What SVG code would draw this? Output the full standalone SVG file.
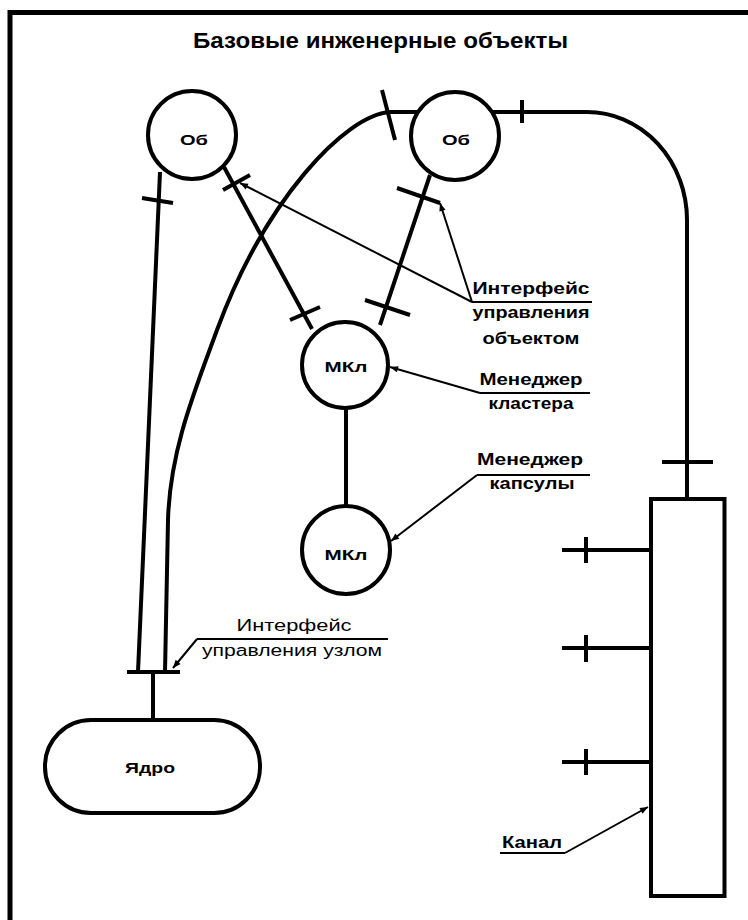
<svg xmlns="http://www.w3.org/2000/svg" width="748" height="920" viewBox="0 0 748 920">
<style>
.n{fill:#fff;stroke:#000;stroke-width:4}
.c{fill:none;stroke:#000;stroke-width:4}
.t{fill:none;stroke:#000;stroke-width:4}
.l{fill:none;stroke:#000;stroke-width:2}
.u{fill:none;stroke:#000;stroke-width:2}
text{font-family:"Liberation Sans",Arial,sans-serif;font-weight:bold;fill:#000;text-anchor:middle}
.lb{font-size:16px}
.nd{font-size:14px}
</style>
<defs>
<marker id="arr" viewBox="0 0 10 10" refX="10" refY="5" markerWidth="10" markerHeight="8" markerUnits="userSpaceOnUse" orient="auto">
<path d="M0,1 L10,5 L0,9 z" fill="#000"/>
</marker>
</defs>
<rect width="748" height="920" fill="#fff"/>
<path d="M10 925 L10 12.5 L760 12.5" fill="none" stroke="#000" stroke-width="5"/>
<text x="380.5" y="48" font-size="22" textLength="375" lengthAdjust="spacingAndGlyphs">Базовые инженерные объекты</text>

<g id="connectors">
<path class="c" d="M160 172 L138 672"/>
<path class="c" d="M417 112 L390 112 C345 115 265 200 217 330 C195 390 170 450 168 520 L165 672"/>
<path class="c" d="M493 112 L587 112 A100 108 0 0 1 687 220 L687 499"/>
<path class="c" d="M224 167 L312 329"/>
<path class="c" d="M430 175 L380 325"/>
<path class="c" d="M346 408 L346 506"/>
<path class="c" d="M127 672 L180 672"/>
<path class="c" d="M153 672 L153 720"/>
<path class="c" d="M562 550 L651 550"/>
<path class="c" d="M562 648 L651 648"/>
<path class="c" d="M562 762 L651 762"/>
<g id="ticks">
<path class="t" d="M142 198 L173 203"/>
<path class="t" d="M382 90 L395 140"/>
<path class="t" d="M522 100 L522 123"/>
<path class="t" d="M662 462 L713 462"/>
<path class="t" d="M223 190 L250 175"/>
<path class="t" d="M290 320 L320 307"/>
<path class="t" d="M397 188 L440 203"/>
<path class="t" d="M365 300 L410 315"/>
<path class="t" d="M586 537 L586 563"/>
<path class="t" d="M586 635 L586 662"/>
<path class="t" d="M586 749 L586 775"/>
</g>
<g id="leaders">
<path class="l" d="M472 302 L440 203" marker-end="url(#arr)"/>
<path class="l" d="M472 302 L240 183" marker-end="url(#arr)"/>
<path class="l" d="M480 393 L390 367" marker-end="url(#arr)"/>
<path class="l" d="M477 475 L391 541" marker-end="url(#arr)"/>
<path class="l" d="M197 639 L173 668" marker-end="url(#arr)"/>
<path class="l" d="M565 853 L648 807" marker-end="url(#arr)"/>
</g>
</g>

<g id="ob1"><circle class="n" cx="192" cy="135" r="44"/><text class="nd" x="194" y="145" textLength="28" lengthAdjust="spacingAndGlyphs">Об</text></g>
<g id="ob2"><circle class="n" cx="455" cy="136" r="44"/><text class="nd" x="456" y="145" textLength="28" lengthAdjust="spacingAndGlyphs">Об</text></g>
<g id="mkl1"><circle class="n" cx="345" cy="365" r="43"/><text class="nd" x="346" y="372" textLength="43" lengthAdjust="spacingAndGlyphs">МКл</text></g>
<g id="mkl2"><circle class="n" cx="346" cy="550" r="44"/><text class="nd" x="346" y="560" textLength="43" lengthAdjust="spacingAndGlyphs">МКл</text></g>
<g id="yadro"><rect class="n" x="45" y="720" width="215" height="93" rx="46" ry="46"/><text class="nd" x="150" y="773" textLength="50" lengthAdjust="spacingAndGlyphs">Ядро</text></g>
<g id="kanal"><rect class="n" x="651" y="499" width="73.5" height="397" stroke-width="5"/></g>

<g id="label-iface-obj">
<text class="lb" x="531" y="294" textLength="117" lengthAdjust="spacingAndGlyphs">Интерфейс</text>
<path class="u" d="M472 302 L592 302"/>
<text class="lb" x="531" y="318" textLength="117" lengthAdjust="spacingAndGlyphs">управления</text>
<text class="lb" x="531" y="344" textLength="97" lengthAdjust="spacingAndGlyphs">объектом</text>
</g>
<g id="label-cluster">
<text class="lb" x="531" y="385" textLength="103" lengthAdjust="spacingAndGlyphs">Менеджер</text>
<path class="u" d="M480 393 L590 393"/>
<text class="lb" x="531" y="409" textLength="85" lengthAdjust="spacingAndGlyphs">кластера</text>
</g>
<g id="label-capsule">
<text class="lb" x="530" y="465" textLength="106" lengthAdjust="spacingAndGlyphs">Менеджер</text>
<path class="u" d="M477 475 L590 475"/>
<text class="lb" x="532" y="489" textLength="85" lengthAdjust="spacingAndGlyphs">капсулы</text>
</g>
<g id="label-iface-node">
<text class="lb" x="294" y="631" textLength="115" lengthAdjust="spacingAndGlyphs" style="font-weight:normal">Интерфейс</text>
<path class="u" d="M197 639 L388 639"/>
<text class="lb" x="292" y="656" textLength="180" lengthAdjust="spacingAndGlyphs" style="font-weight:normal">управления узлом</text>
</g>
<g id="label-channel">
<text class="lb" x="532" y="848" textLength="60" lengthAdjust="spacingAndGlyphs">Канал</text>
<path class="u" d="M500 853 L565 853"/>
</g>
</svg>
